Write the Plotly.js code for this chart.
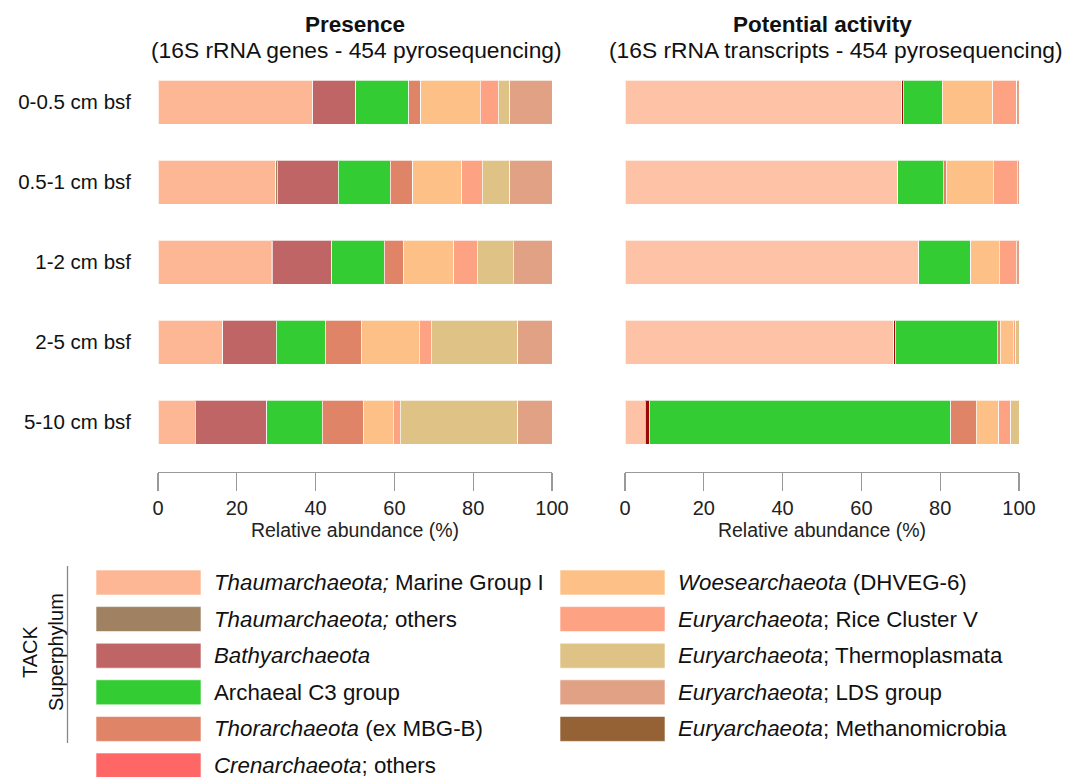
<!DOCTYPE html>
<html>
<head>
<meta charset="utf-8">
<script src="https://cdn.plot.ly/plotly-3.0.1.min.js"></script>
<style>html,body{margin:0;padding:0;background:#fff;}#chart{width:1079px;height:777px;}</style>
</head>
<body>
<div id="chart"></div>
<script>
// ---------- DATA ----------
const depths = ['0-0.5 cm bsf', '0.5-1 cm bsf', '1-2 cm bsf', '2-5 cm bsf', '5-10 cm bsf'];
const xTicks = [0, 20, 40, 60, 80, 100];

const taxa = ['MGI', 'ThaumOthers', 'Bathy', 'C3', 'Thor', 'Cren', 'Woese', 'RiceV', 'Thermo', 'LDS', 'Methano'];
const taxaLabels = [
  '<i>Thaumarchaeota;</i> Marine Group I',
  '<i>Thaumarchaeota;</i> others',
  '<i>Bathyarchaeota</i>',
  'Archaeal C3 group',
  '<i>Thorarchaeota</i> (ex MBG-B)',
  '<i>Crenarchaeota</i>; others',
  '<i>Woesearchaeota</i> (DHVEG-6)',
  '<i>Euryarchaeota</i>; Rice Cluster V',
  '<i>Euryarchaeota</i>; Thermoplasmata',
  '<i>Euryarchaeota</i>; LDS group',
  '<i>Euryarchaeota</i>; Methanomicrobia'
];
const presenceColors = ['#FDB795', '#A08262', '#C06565', '#33CC33', '#E08468', '#FF6666',
                        '#FDC086', '#FEA284', '#DFC285', '#E0A184', '#956235'];
const activityColors = ['#FEC3A6', '#A08262', '#990A0A', '#33CC33', '#E08468', '#FF6666',
                        '#FDC086', '#FEA284', '#DFC285', '#E0A184', '#956235'];

// Presence (16S rRNA genes), % per depth
const presMGI         = [39.1, 29.9, 28.8, 16.4, 9.4];
const presThaumOthers = [0.2, 0.4, 0.2, 0, 0];
const presBathy       = [10.9, 15.5, 15.1, 13.6, 18.2];
const presC3          = [13.4, 13.1, 13.3, 12.6, 14.1];
const presThor        = [3.1, 5.8, 4.9, 9.0, 10.4];
const presCren        = [0, 0, 0, 0, 0];
const presWoese       = [15.1, 12.4, 12.8, 14.7, 7.6];
const presRiceV       = [4.5, 5.2, 5.9, 3.0, 1.8];
const presThermo      = [3.0, 7.0, 9.2, 22.0, 29.8];
const presLDS         = [10.7, 10.7, 9.8, 8.7, 8.7];
const presMethano     = [0, 0, 0, 0, 0];

// Potential activity (16S rRNA transcripts), % per depth
const actMGI         = [70.2, 69.2, 74.6, 68.2, 5.1];
const actThaumOthers = [0, 0, 0, 0, 0];
const actBathy       = [0.4, 0, 0, 0.4, 1.1];
const actC3          = [9.9, 11.6, 13.2, 25.9, 76.5];
const actThor        = [0, 0.7, 0, 0.8, 6.4];
const actCren        = [0, 0, 0, 0, 0];
const actWoese       = [12.8, 12.0, 7.2, 3.3, 5.8];
const actRiceV       = [6.1, 6.1, 4.3, 0.6, 3.0];
const actThermo      = [0, 0, 0, 0.8, 2.1];
const actLDS         = [0.6, 0.4, 0.7, 0, 0];
const actMethano     = [0, 0, 0, 0, 0];

const presence = [presMGI, presThaumOthers, presBathy, presC3, presThor, presCren,
                  presWoese, presRiceV, presThermo, presLDS, presMethano];
const activity = [actMGI, actThaumOthers, actBathy, actC3, actThor, actCren,
                  actWoese, actRiceV, actThermo, actLDS, actMethano];

// ---------- LAYOUT HELPERS ----------
const W = 1079, H = 777;
const px = v => v / W;
const py = v => 1 - v / H;
const FONT = 'Liberation Sans, Arial, Helvetica, sans-serif';

const traces = [];
taxa.forEach((t, i) => {
  traces.push({
    type: 'bar', orientation: 'h', name: taxaLabels[i],
    x: presence[i], y: depths, xaxis: 'x', yaxis: 'y',
    marker: {color: presenceColors[i], line: {color: 'rgba(255,255,255,0.7)', width: 1}},
    showlegend: false, hoverinfo: 'x+name'
  });
  traces.push({
    type: 'bar', orientation: 'h', name: taxaLabels[i],
    x: activity[i], y: depths, xaxis: 'x2', yaxis: 'y2',
    marker: {color: activityColors[i], line: {color: 'rgba(255,255,255,0.7)', width: 1}},
    showlegend: false, hoverinfo: 'x+name'
  });
});

const xaxisBase = {
  range: [0, 100], tickvals: xTicks, ticktext: xTicks.map(String),
  showline: true, linecolor: '#999', linewidth: 1.3,
  ticks: 'outside', ticklen: 18, tickcolor: '#999', tickwidth: 1.3,
  showgrid: false, zeroline: false,
  tickfont: {family: FONT, size: 20, color: '#222'},
  title: {text: 'Relative abundance (%)', font: {family: FONT, size: 19.5, color: '#222'}, standoff: 4},
  fixedrange: true
};
const yRange = [depths.length - 1 + 0.625, -0.5];

const ann = (text, x, y, size, extra) => Object.assign({
  text: text, x: px(x), y: py(y), xref: 'paper', yref: 'paper', showarrow: false,
  xanchor: 'center', yanchor: 'middle', font: {family: FONT, size: size, color: '#111'}
}, extra || {});

const annotations = [
  ann('<b>Presence</b>', 355, 24, 22.5),
  ann('(16S rRNA genes - 454 pyrosequencing)', 356, 50, 22.8),
  ann('<b>Potential activity</b>', 822, 24, 22.5),
  ann('(16S rRNA transcripts - 454 pyrosequencing)', 836, 50, 22.8),
  ann('TACK<br>Superphylum', 43, 652, 20, {textangle: -90, align: 'center'})
];
const shapes = [
  {type: 'line', xref: 'paper', yref: 'paper', x0: px(67.5), x1: px(67.5), y0: py(566), y1: py(743),
   line: {color: '#888', width: 1.3}}
];

// legend built from taxa arrays: two columns, column-major
const perCol = 6;
taxa.forEach((t, i) => {
  const col = i < perCol ? 0 : 1;
  const row = i < perCol ? i : i - perCol;
  const sx = col === 0 ? 96 : 560;
  const sw = 105;
  const top = 570 + row * 36.6;
  shapes.push({type: 'rect', xref: 'paper', yref: 'paper',
    x0: px(sx), x1: px(sx + sw), y0: py(top), y1: py(top + 25),
    fillcolor: presenceColors[i], line: {color: 'rgba(255,255,255,0.6)', width: 1}});
  annotations.push(ann(taxaLabels[i], sx + sw + 11, top + 12.5, 22.3, {xanchor: 'left'}));
});

const layout = {
  width: W, height: H,
  margin: {l: 0, r: 0, t: 0, b: 0},
  paper_bgcolor: '#fff', plot_bgcolor: '#fff',
  barmode: 'stack', bargap: 0.45,
  font: {family: FONT},
  showlegend: false,
  xaxis: Object.assign({}, xaxisBase, {domain: [px(158), px(552)], anchor: 'y'}),
  xaxis2: Object.assign({}, xaxisBase, {domain: [px(625), px(1019)], anchor: 'y2'}),
  yaxis: {domain: [py(472), py(62)], range: yRange, type: 'category', anchor: 'x',
          showline: false, ticks: '', showgrid: false, zeroline: false,
          ticklabelstandoff: 26, tickfont: {family: FONT, size: 20.5, color: '#111'}, fixedrange: true},
  yaxis2: {domain: [py(472), py(62)], range: yRange, type: 'category', anchor: 'x2',
           showline: false, ticks: '', showgrid: false, zeroline: false, showticklabels: false, fixedrange: true},
  annotations: annotations,
  shapes: shapes
};

Plotly.newPlot('chart', traces, layout, {displayModeBar: false, staticPlot: true});
</script>
</body>
</html>
